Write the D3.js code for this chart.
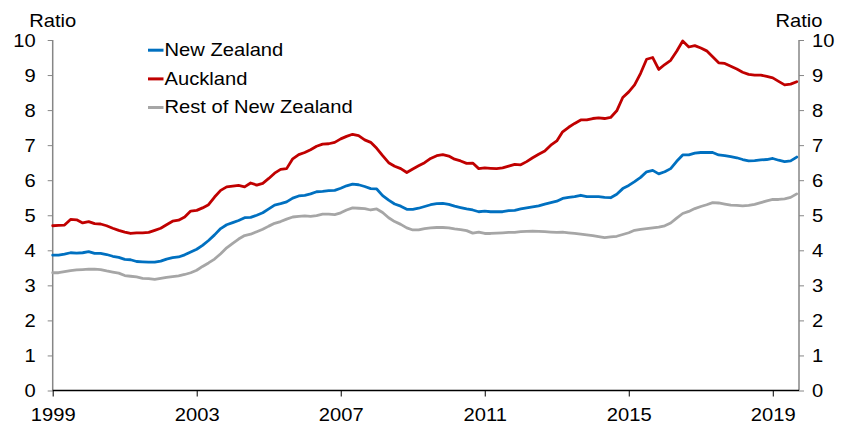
<!DOCTYPE html>
<html><head><meta charset="utf-8">
<script src="https://cdn.jsdelivr.net/npm/d3@7"></script>
<style>
html,body{margin:0;padding:0;background:#fff;}
text{font-family:"Liberation Sans",Arial,sans-serif;font-size:18px;fill:#000;}
</style></head>
<body><svg id="c" width="841" height="424"></svg>
<script>
// Bi-monthly observations, Jan 1999 .. Sep 2019
const dates = [
"1999-01","1999-03","1999-05","1999-07","1999-09","1999-11",
"2000-01","2000-03","2000-05","2000-07","2000-09","2000-11",
"2001-01","2001-03","2001-05","2001-07","2001-09","2001-11",
"2002-01","2002-03","2002-05","2002-07","2002-09","2002-11",
"2003-01","2003-03","2003-05","2003-07","2003-09","2003-11",
"2004-01","2004-03","2004-05","2004-07","2004-09","2004-11",
"2005-01","2005-03","2005-05","2005-07","2005-09","2005-11",
"2006-01","2006-03","2006-05","2006-07","2006-09","2006-11",
"2007-01","2007-03","2007-05","2007-07","2007-09","2007-11",
"2008-01","2008-03","2008-05","2008-07","2008-09","2008-11",
"2009-01","2009-03","2009-05","2009-07","2009-09","2009-11",
"2010-01","2010-03","2010-05","2010-07","2010-09","2010-11",
"2011-01","2011-03","2011-05","2011-07","2011-09","2011-11",
"2012-01","2012-03","2012-05","2012-07","2012-09","2012-11",
"2013-01","2013-03","2013-05","2013-07","2013-09","2013-11",
"2014-01","2014-03","2014-05","2014-07","2014-09","2014-11",
"2015-01","2015-03","2015-05","2015-07","2015-09","2015-11",
"2016-01","2016-03","2016-05","2016-07","2016-09","2016-11",
"2017-01","2017-03","2017-05","2017-07","2017-09","2017-11",
"2018-01","2018-03","2018-05","2018-07","2018-09","2018-11",
"2019-01","2019-03","2019-05","2019-07","2019-09"];

const newZealand = [
3.86,3.86,3.89,3.93,3.92,3.93, 3.96,3.91,3.91,3.88,3.83,3.80,
3.74,3.73,3.68,3.67,3.66,3.66, 3.69,3.75,3.79,3.81,3.87,3.95,
4.03,4.14,4.28,4.44,4.62,4.73, 4.79,4.85,4.93,4.94,5.00,5.07,
5.18,5.29,5.33,5.38,5.49,5.55, 5.57,5.61,5.67,5.68,5.70,5.71,
5.77,5.84,5.89,5.87,5.82,5.76, 5.75,5.56,5.43,5.32,5.26,5.17,
5.17,5.20,5.25,5.30,5.33,5.34, 5.31,5.26,5.22,5.18,5.15,5.10,
5.12,5.10,5.10,5.10,5.13,5.14, 5.18,5.21,5.24,5.27,5.32,5.36,
5.40,5.48,5.51,5.53,5.57,5.53, 5.53,5.53,5.51,5.50,5.60,5.76,
5.85,5.96,6.08,6.24,6.28,6.18, 6.24,6.33,6.54,6.72,6.72,6.77,
6.79,6.79,6.79,6.72,6.70,6.67, 6.64,6.59,6.55,6.56,6.58,6.59,
6.62,6.57,6.53,6.55,6.66];

const auckland = [
4.70,4.71,4.72,4.88,4.87,4.78, 4.82,4.76,4.75,4.70,4.63,4.57,
4.52,4.48,4.50,4.50,4.51,4.57, 4.63,4.73,4.83,4.86,4.95,5.12,
5.14,5.21,5.30,5.52,5.71,5.81, 5.83,5.85,5.81,5.92,5.86,5.91,
6.05,6.20,6.31,6.33,6.61,6.73, 6.79,6.87,6.97,7.03,7.04,7.08,
7.18,7.25,7.31,7.27,7.15,7.08, 6.91,6.70,6.50,6.40,6.33,6.22,
6.32,6.41,6.50,6.62,6.70,6.73, 6.69,6.60,6.55,6.48,6.49,6.33,
6.35,6.34,6.33,6.35,6.40,6.45, 6.44,6.53,6.64,6.74,6.83,7.00,
7.12,7.38,7.51,7.62,7.72,7.72, 7.76,7.78,7.76,7.79,7.98,8.36,
8.52,8.72,9.05,9.45,9.50,9.16, 9.30,9.42,9.68,9.97,9.80,9.84,
9.77,9.69,9.52,9.35,9.33,9.25, 9.17,9.08,9.02,9.00,9.00,8.96,
8.92,8.82,8.72,8.74,8.81];

const restOfNZ = [
3.36,3.36,3.39,3.42,3.44,3.45, 3.46,3.46,3.45,3.41,3.38,3.35,
3.28,3.26,3.24,3.20,3.19,3.17, 3.20,3.23,3.25,3.27,3.31,3.36,
3.43,3.54,3.64,3.75,3.90,4.07, 4.20,4.32,4.42,4.46,4.53,4.60,
4.69,4.77,4.82,4.89,4.95,4.97, 4.98,4.97,4.99,5.03,5.03,5.02,
5.07,5.15,5.21,5.20,5.19,5.15, 5.18,5.08,4.93,4.82,4.74,4.64,
4.58,4.58,4.62,4.64,4.65,4.65, 4.64,4.61,4.59,4.56,4.49,4.52,
4.48,4.48,4.49,4.50,4.51,4.51, 4.53,4.54,4.55,4.54,4.53,4.52,
4.51,4.52,4.50,4.48,4.46,4.44, 4.42,4.39,4.36,4.38,4.40,4.45,
4.50,4.57,4.60,4.62,4.64,4.66, 4.70,4.78,4.92,5.05,5.11,5.19,
5.25,5.30,5.36,5.35,5.32,5.29, 5.28,5.27,5.28,5.31,5.36,5.41,
5.45,5.45,5.47,5.51,5.61];

const seriesNames = ["New Zealand","Auckland","Rest of New Zealand"];
const seriesColors = ["#0070C0","#C00000","#A6A6A6"];
const yTicks = [0,1,2,3,4,5,6,7,8,9,10];
const xTickYears = [1999,2003,2007,2011,2015,2019];
const axisTitle = "Ratio";

const SX = 1.12; // horizontal text stretch seen in reference
const parse = d3.timeParse("%Y-%m");
const svg = d3.select("#c");
const L = 52.7, R = 799, T = 40, B = 390.5;

const x = d3.scaleTime().domain([new Date(1999,0,1), new Date(2019,9,1)]).range([L, 799.7]);
const y = d3.scaleLinear().domain([0,10]).range([B, T]);

function stretch(sel){
  sel.each(function(){
    const t = d3.select(this);
    const tx = +t.attr("x")||0, ty = +t.attr("y")||0;
    t.attr("x",null).attr("y",null)
     .attr("transform",`translate(${tx},${ty}) scale(${SX},1)`);
  });
}

// left axis
const gl = svg.append("g").attr("transform",`translate(${L},0)`)
  .call(d3.axisLeft(y).tickValues(yTicks).tickSize(5).tickPadding(12).tickFormat(d3.format("d")));
gl.select(".domain").attr("stroke","#868686").attr("stroke-width",1.5).attr("d",`M0,${T}V${B}`);
gl.selectAll(".tick line").attr("stroke","#868686").attr("stroke-width",1);
gl.selectAll(".tick text").attr("font-size",18).attr("x",-17).attr("dy","0.35em").call(stretch);

// right axis
const gr = svg.append("g").attr("transform",`translate(${R},0)`)
  .call(d3.axisRight(y).tickValues(yTicks).tickSize(5).tickFormat(d3.format("d")));
gr.select(".domain").attr("stroke","#868686").attr("stroke-width",1.5).attr("d",`M0,${T}V${B}`);
gr.selectAll(".tick line").attr("stroke","#868686").attr("stroke-width",1);
gr.selectAll(".tick text").attr("font-size",18).attr("x",13).attr("dy","0.35em").call(stretch);

// bottom axis
const gb = svg.append("g").attr("transform",`translate(0,${B})`)
  .call(d3.axisBottom(x).tickValues(xTickYears.map(v=>new Date(v,0,1))).tickSize(6).tickFormat(d3.timeFormat("%Y")));
gb.select(".domain").attr("stroke","#000").attr("stroke-width",1.5).attr("d",`M${L},0H${R}`);
gb.selectAll(".tick line").attr("stroke","#000").attr("stroke-width",1);
gb.selectAll(".tick text").attr("font-size",18).attr("y",30.5).attr("dy",0).call(stretch);
svg.selectAll(".tick text").attr("fill","#000").attr("font-family","Liberation Sans, Arial, sans-serif");

// axis titles
[[L,axisTitle],[R,axisTitle]].forEach(([px,s])=>{
  svg.append("text").attr("text-anchor","middle")
    .attr("transform",`translate(${px},26.5) scale(${SX},1)`).text(s);
});

// lines
const allSeries = [newZealand, auckland, restOfNZ];
const line = d3.line().x((d,i)=>x(parse(dates[i]))).y(d=>y(d));
allSeries.forEach((vals,i)=>{
  svg.append("path").datum(vals).attr("d",line)
    .attr("fill","none").attr("stroke",seriesColors[i])
    .attr("stroke-width",2.8).attr("stroke-linejoin","round").attr("stroke-linecap","round");
});

// legend
const legendY = [56,84.7,113.3];
seriesNames.forEach((n,i)=>{
  svg.append("line").attr("x1",148).attr("x2",163.5)
    .attr("y1",legendY[i]-5.8).attr("y2",legendY[i]-5.8)
    .attr("stroke",seriesColors[i]).attr("stroke-width",3);
  svg.append("text").attr("transform",`translate(164.5,${legendY[i]}) scale(${SX},1)`).text(n);
});
</script></body></html>
